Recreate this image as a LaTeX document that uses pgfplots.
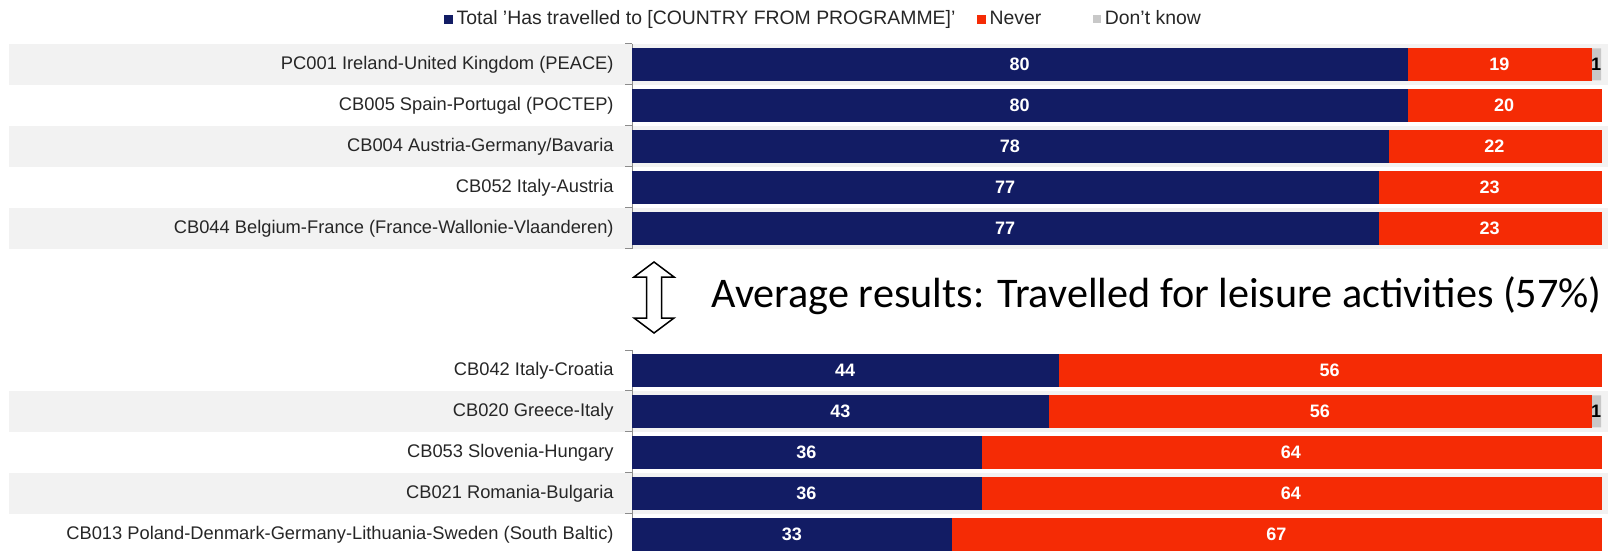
\documentclass[border=0pt]{standalone}
\usepackage{pgfplots}
\pgfplotsset{compat=1.18}
\usepackage{pgfplotstable}
\usepackage{fontspec}
\setmainfont{Liberation Sans}
\newfontfamily\calibri{Carlito}

\definecolor{navy}{RGB}{18,28,100}
\definecolor{redbar}{RGB}{245,43,5}
\definecolor{dkgray}{RGB}{200,200,200}
\definecolor{rowshade}{RGB}{242,242,242}

% top five programmes
\pgfplotstableread{
row total never dk
0 80 19 1
1 80 20 0
2 78 22 0
3 77 23 0
4 77 23 0
}\toptable

% bottom five programmes
\pgfplotstableread{
row total never dk
0 44 56 0
1 43 56 1
2 36 64 0
3 36 64 0
4 33 67 0
}\bottable

\pgfplotsset{
  rowchart/.style={
    set layers, xbar, bar shift=0pt, scale only axis,
    width=484.5pt, height=102.5pt,
    xmin=0, xmax=100, ymin=-0.5, ymax=4.5, y dir=reverse,
    bar width=16pt, clip=false,
    axis x line=none, axis y line*=left,
    y axis line style={draw=black!45, line width=0.5pt, -},
    ytick={0,...,4}, minor ytick={-0.5,0.5,...,4.5},
    major tick length=0pt, minor tick length=3.5pt, tick align=outside,
    minor tick style={draw=black!45, line width=0.5pt},
    yticklabel style={font=\fontsize{9.15}{11}\selectfont, text=black!85, inner sep=0pt, xshift=-9pt},
  },
  % invisible plots that only carry the numbers in the middle of each segment
  labelplot/.style={
    forget plot, only marks, mark=none, point meta=explicit symbolic,
    nodes near coords={\ifdim\pgfplotspointmeta pt>0pt \pgfplotspointmeta\fi},
    every node near coord/.append style={anchor=center, inner sep=0pt, text=white,
      font=\bfseries\fontsize{9}{11}\selectfont},
  },
}

\begin{document}
\begin{tikzpicture}
\begin{axis}[rowchart, at={(316pt,-22pt)}, anchor=north west,
    yticklabels={PC001 Ireland-United Kingdom (PEACE), CB005 Spain-Portugal (POCTEP),
      CB004 Austria-Germany/Bavaria\ , CB052 Italy-Austria,
      CB044 Belgium-France (France-Wallonie-Vlaanderen)},
    legend columns=3, reverse legend,
    legend style={at={(-0.194,1.122)}, anchor=west, draw=none, fill=none, inner sep=0pt,
      font=\fontsize{9.7}{11}\selectfont, text=black!85,
      /tikz/every even column/.append style={column sep=9pt}},
    legend image code/.code={\fill[#1] (0pt,-2pt) rectangle (3.8pt,2pt);},
  ]
  \begin{pgfonlayer}{axis background}
  \fill[rowshade] (axis cs:-64.3,-0.5) rectangle (axis cs:100.7,0.5);
  \fill[rowshade] (axis cs:-64.3,1.5) rectangle (axis cs:100.7,2.5);
  \fill[rowshade] (axis cs:-64.3,3.5) rectangle (axis cs:100.7,4.5);
  \end{pgfonlayer}
  \addplot[fill=dkgray, draw=none] table[x expr=\thisrow{total}+\thisrow{never}+\thisrow{dk}, y=row] \toptable;
  \addlegendentry{Don't know}
  \addplot[fill=redbar, draw=redbar, line width=0.3pt] table[x expr=\thisrow{total}+\thisrow{never}, y=row] \toptable;
  \addlegendentry{Never\hspace{15pt}\mbox{}}
  \addplot[fill=navy, draw=navy, line width=0.3pt] table[x=total, y=row] \toptable;
  \addlegendentry{Total 'Has travelled to [COUNTRY FROM PROGRAMME]'}
  \addplot[labelplot] table[x expr=\thisrow{total}/2, y=row, meta=total] \toptable;
  \addplot[labelplot] table[x expr=\thisrow{total}+\thisrow{never}/2, y=row, meta=never] \toptable;
  \addplot[labelplot, every node near coord/.append style={text=black}]
    table[x expr=\thisrow{total}+\thisrow{never}+\thisrow{dk}/2, y=row, meta=dk] \toptable;
\end{axis}

\begin{axis}[rowchart, at={(316pt,-175pt)}, anchor=north west,
    yticklabels={CB042 Italy-Croatia, CB020 Greece-Italy, CB053 Slovenia-Hungary,
      CB021 Romania-Bulgaria, CB013 Poland-Denmark-Germany-Lithuania-Sweden (South Baltic)},
  ]
  \begin{pgfonlayer}{axis background}
  \fill[rowshade] (axis cs:-64.3,0.5) rectangle (axis cs:100.7,1.5);
  \fill[rowshade] (axis cs:-64.3,2.5) rectangle (axis cs:100.7,3.5);
  \end{pgfonlayer}
  \addplot[fill=dkgray, draw=none] table[x expr=\thisrow{total}+\thisrow{never}+\thisrow{dk}, y=row] \bottable;
  \addplot[fill=redbar, draw=redbar, line width=0.3pt] table[x expr=\thisrow{total}+\thisrow{never}, y=row] \bottable;
  \addplot[fill=navy, draw=navy, line width=0.3pt] table[x=total, y=row] \bottable;
  \addplot[labelplot] table[x expr=\thisrow{total}/2, y=row, meta=total] \bottable;
  \addplot[labelplot] table[x expr=\thisrow{total}+\thisrow{never}/2, y=row, meta=never] \bottable;
  \addplot[labelplot, every node near coord/.append style={text=black}]
    table[x expr=\thisrow{total}+\thisrow{never}+\thisrow{dk}/2, y=row, meta=dk] \bottable;
\end{axis}

% double-headed arrow between the two groups
\draw[line width=0.75pt, line join=miter] (327pt,-148.75pt) ++(0,17.75pt)
  -- ++(10pt,-7.5pt) -- ++(-6.25pt,0) -- ++(0,-20.5pt) -- ++(6.25pt,0)
  -- ++(-10pt,-7.5pt) -- ++(-10pt,7.5pt) -- ++(6.25pt,0) -- ++(0,20.5pt)
  -- ++(-6.25pt,0) -- cycle;
\node[anchor=west, inner sep=0pt, font=\calibri\fontsize{21.1}{25}\selectfont]
  at (355.5pt,-148pt) {Average results: Travelled for leisure activities (57\%)};

\pgfresetboundingbox
\path[use as bounding box] (0,0) rectangle (804pt,-275.5pt);
\end{tikzpicture}
\end{document}
